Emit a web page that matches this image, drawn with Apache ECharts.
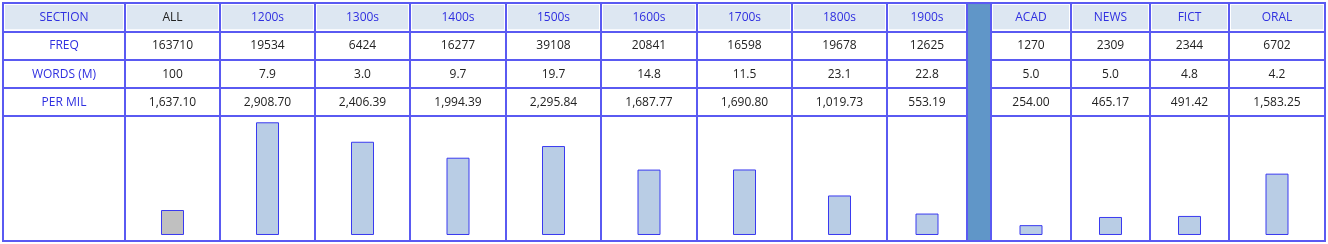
<!DOCTYPE html>
<html>
<head>
<meta charset="utf-8">
<script src="https://cdn.jsdelivr.net/npm/echarts@6/dist/echarts.min.js"></script>
<style>html,body{margin:0;padding:0;background:#fff}#c{width:1328px;height:244px}</style>
</head>
<body>
<div id="c"></div>
<script>
// ---- data ----
const rowLabels = ['SECTION', 'FREQ', 'WORDS (M)', 'PER MIL'];
const sections = ['ALL', '1200s', '1300s', '1400s', '1500s', '1600s', '1700s', '1800s', '1900s', 'ACAD', 'NEWS', 'FICT', 'ORAL'];
const freq = [163710, 19534, 6424, 16277, 39108, 20841, 16598, 19678, 12625, 1270, 2309, 2344, 6702];
const wordsM = [100, 7.9, 3.0, 9.7, 19.7, 14.8, 11.5, 23.1, 22.8, 5.0, 5.0, 4.8, 4.2];
const perMil = [1637.10, 2908.70, 2406.39, 1994.39, 2295.84, 1687.77, 1690.80, 1019.73, 553.19, 254.00, 465.17, 491.42, 1583.25];
const allBarValue = 645; // the ALL bar is drawn shorter in the picture
const barValues = perMil.map((v, i) => i === 0 ? allBarValue : v);

// ---- layout / style ----
const LINE = '#5a5af2', BLUE = '#2f2fe0', DARK = '#222', HEAD_BG = '#dde7f2';
const BAR_FILL = '#b9cde5', ALL_FILL = '#c0c0c0', SEP_FILL = '#6096c8';
const FONT = '12px "Open Sans"';
const boxes = [[3,125],[125,220],[220,315],[315,410],[410,506],[506,601],[601,697],[697,792],[792,887],[887,967],[967,991],[991,1071],[1071,1150],[1150,1229],[1229,1325]];
const TABLE_TOP = 3, TABLE_H = 113, BAR_TOP = 116, BAR_H = 125;
const fmt2 = v => v.toLocaleString('en-US', {minimumFractionDigits: 2, maximumFractionDigits: 2});
const fmtW = v => v >= 100 ? String(v) : v.toFixed(1);

// columns: label column, sections 0..8, separator, sections 9..12
const columns = [{kind: 'label'}];
for (let i = 0; i <= 8; i++) columns.push({kind: 'sec', i});
columns.push({kind: 'sep'});
for (let i = 9; i < sections.length; i++) columns.push({kind: 'sec', i});

const grid = [], xAxis = [], yAxis = [], series = [];
const hiddenCat = (gi) => ({type: 'category', gridIndex: gi, data: ['x'], show: false});

columns.forEach((col, ci) => {
  const [a, b] = boxes[ci];
  if (col.kind === 'sep') {
    const gi = grid.length;
    grid.push({left: a, width: b - a, top: TABLE_TOP, height: BAR_TOP + BAR_H - TABLE_TOP, show: true,
      backgroundColor: SEP_FILL, borderColor: LINE, borderWidth: 2});
    xAxis.push(hiddenCat(gi));
    yAxis.push({type: 'value', gridIndex: gi, show: false});
    return;
  }
  let texts, colors;
  if (col.kind === 'label') {
    texts = rowLabels.slice();
    colors = [BLUE, BLUE, BLUE, BLUE];
  } else {
    const i = col.i;
    texts = [sections[i], String(freq[i]), fmtW(wordsM[i]), fmt2(perMil[i])];
    colors = [i === 0 ? DARK : BLUE, DARK, DARK, DARK];
  }
  // table grid
  const tg = grid.length;
  grid.push({left: a, width: b - a, top: TABLE_TOP, height: TABLE_H, show: true,
    backgroundColor: '#fff', borderColor: LINE, borderWidth: 2});
  xAxis.push(hiddenCat(tg));
  yAxis.push({type: 'category', gridIndex: tg, inverse: true, data: rowLabels,
    axisLine: {show: false}, axisTick: {show: false}, axisLabel: {show: false},
    splitLine: {show: true, interval: 0, lineStyle: {color: LINE, width: 2}}});
  series.push({
    type: 'custom', xAxisIndex: tg, yAxisIndex: tg, silent: true,
    data: rowLabels.map((_, r) => [0, r]),
    renderItem: (params, api) => {
      const r = params.dataIndex;
      const c = api.coord([0, r]);
      const s = api.size([1, 1]);
      const children = [];
      if (r === 0) {
        children.push({type: 'rect', shape: {x: c[0] - s[0] / 2 + 2, y: c[1] - s[1] / 2 + 2, width: s[0] - 4, height: s[1] - 4},
          style: {fill: HEAD_BG}});
      }
      children.push({type: 'text', style: {text: texts[r], x: c[0], y: c[1] + 0.5, align: 'center', verticalAlign: 'middle',
        fill: colors[r], font: FONT}});
      return {type: 'group', children};
    }
  });
  // bar grid
  const bg = grid.length;
  grid.push({left: a, width: b - a, top: BAR_TOP, height: BAR_H, show: true,
    backgroundColor: 'transparent', borderColor: LINE, borderWidth: 2});
  xAxis.push(hiddenCat(bg));
  yAxis.push({type: 'value', gridIndex: bg, min: -155, max: 3071, show: false, splitLine: {show: false}});
  if (col.kind === 'sec') {
    const i = col.i;
    series.push({
      type: 'bar', xAxisIndex: bg, yAxisIndex: bg, silent: true, barWidth: 23,
      data: [barValues[i]],
      itemStyle: {color: i === 0 ? ALL_FILL : BAR_FILL, borderColor: '#3a3af0', borderWidth: 1}
    });
  }
});

const chart = echarts.init(document.getElementById('c'), null, {renderer: 'canvas'});
chart.setOption({animation: false, grid, xAxis, yAxis, series});
</script>
</body>
</html>
